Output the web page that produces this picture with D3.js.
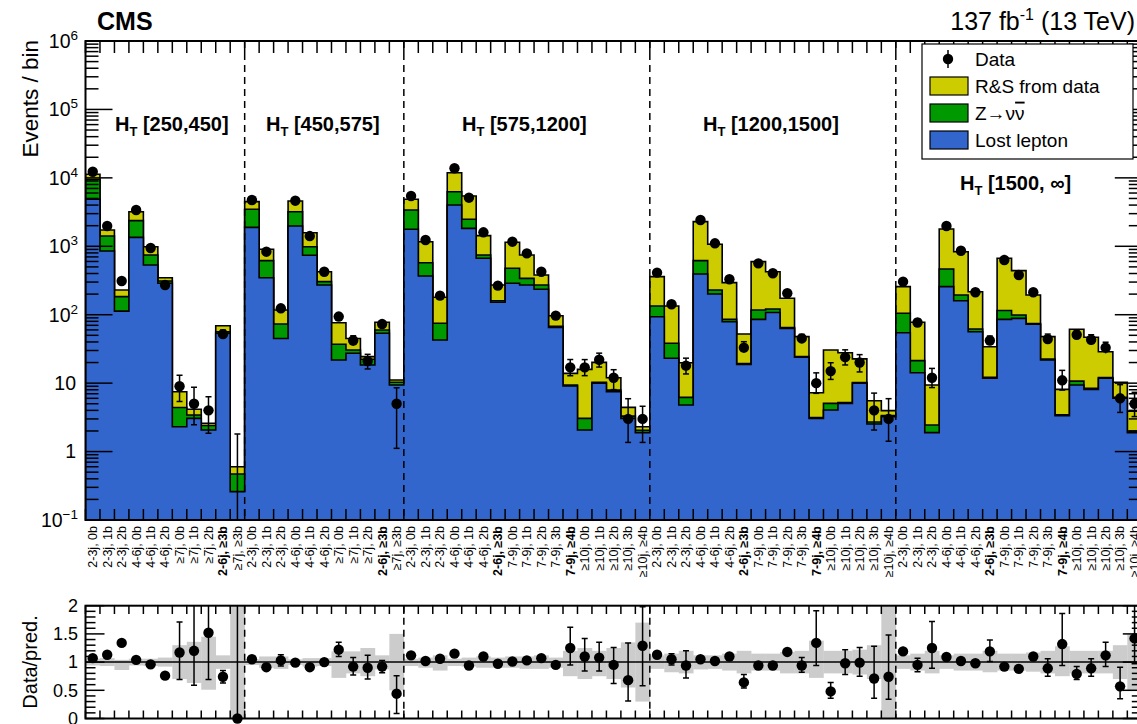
<!DOCTYPE html>
<html><head><meta charset="utf-8">
<script src="https://cdn.jsdelivr.net/npm/d3@7"></script>
<style>
body{margin:0;background:#fff}
svg{display:block}
text{font-family:"Liberation Sans",Arial,Helvetica,sans-serif;fill:#000}
</style>
</head><body><svg id="c" width="1137" height="724"></svg>
<script>
// ---------------- DATA ----------------
const labelsLowHT = ["2-3j, 0b","2-3j, 1b","2-3j, 2b","4-6j, 0b","4-6j, 1b","4-6j, 2b","≥7j, 0b","≥7j, 1b","≥7j, 2b","2-6j, ≥3b","≥7j, ≥3b"];
const labelsHighHT = ["2-3j, 0b","2-3j, 1b","2-3j, 2b","4-6j, 0b","4-6j, 1b","4-6j, 2b","2-6j, ≥3b","7-9j, 0b","7-9j, 1b","7-9j, 2b","7-9j, 3b","7-9j, ≥4b","≥10j, 0b","≥10j, 1b","≥10j, 2b","≥10j, 3b","≥10j, ≥4b"];
const htRegions = ["[250,450]","[450,575]","[575,1200]","[1200,1500]","[1500, ∞]"];
const regionBins = [11,11,17,17,17];
const binLabels = [].concat(labelsLowHT, labelsLowHT, labelsHighHT, labelsHighHT, labelsHighHT);

const lostLepton = [4870,853,113,1350,533,288,2.31,3.06,2.07,53.5,0.26,
  1890,347,45,1980,738,272,21.8,27.3,18.4,53.5,9.4,
  1770,368,42.7,4010,1830,667,152,288,272,235,65.4,9.1,2.07,9.96,7.5,3.06,1.89,
  93.6,23.1,4.8,394,201,79,18.8,85.5,108,63,23.9,3.06,4.05,5.07,9.96,2.53,3.24,
  54.6,14.2,1.89,257,160,56.5,11.8,85.5,88.5,72.4,21.8,3.35,9.4,8.1,11.8,6.0,1.89];
const zinv = [4630,557,71,1020,213,23,2.09,0.37,0.33,3.0,0.21,
  1580,270,28,1220,248,32,15.2,3.2,4.0,6.3,0.9,
  1620,208,32.3,2270,650,79,8,189,68,37,2.6,0.3,0.99,0.34,0.4,0.24,0.16,
  40.4,15.1,1.4,223,29,6.5,0.5,31.5,13,2,0.6,0.09,1.02,0.13,0.24,0.17,0.11,
  50.4,7.1,0.56,209,34,5.3,0.4,29.5,10.5,1.6,0.7,0.1,1.3,0.3,0.3,0.2,0.11];
const rsFromData = [1770,320,46,830,240,36,3.1,0.72,0.19,12.5,0.13,
  1020,286,44,1400,594,121,39.5,14.5,2.0,17.7,0.8,
  1480,591,105,5620,2950,684,112,666,406,108,28.8,4.5,12.84,9.8,4.1,1.13,0.26,
  226,95.8,13.7,1673,840,208.5,33,479,304,109,23.3,4.1,25.43,22.6,12.4,2.83,0.61,
  152,56.2,6.95,1324,640,155.2,21.9,552,342,120,25.3,4.65,50.5,38.4,16.7,4.1,1.9];
const observed = [12300,1980,311,3390,944,272,9,5,4,52,0,
  4740,834,124,4640,1410,425,94,42,21,73,5,
  5430,1236,190,13800,5130,1600,266,1167,789,425,97,17,17,22,12,3,3,
  412,142,18,2420,1105,330,33,563,403,206,45,10,15,24,20,4,3,
  304,77,12,1980,861,213,42,631,380,213,44,11,51,43,33,6,5];
const ratio = [1.07,1.13,1.34,1.04,0.96,0.76,1.17,1.2,1.52,0.74,0,
  1.05,0.91,1.03,0.99,0.91,1.0,1.22,0.92,0.9,0.92,0.44,
  1.12,1.02,1.06,1.15,0.94,1.1,0.97,1.01,1.03,1.07,0.95,1.25,1.1,1.08,0.95,0.68,1.29,
  1.13,1.05,0.94,1.05,1.02,1.1,0.64,0.94,0.94,1.18,0.94,1.34,0.48,0.98,0.99,0.71,0.74,
  1.19,0.95,1.25,1.09,1.02,0.98,1.19,0.92,0.88,1.1,0.89,1.32,0.79,0.89,1.12,0.57,1.42];
const ratioErrUp = [.02,.03,.06,.02,.03,.05,.54,.9,.9,.11,3,
  .02,.04,.1,.02,.03,.05,.13,.16,.22,.11,.32,
  .02,.03,.08,.01,.02,.03,.06,.03,.04,.05,.07,.37,.32,.27,.31,.66,.69,
  .07,.1,.26,.03,.04,.06,.14,.05,.06,.07,.14,.57,.16,.24,.27,.57,.74,
  .08,.12,.47,.04,.04,.07,.2,.04,.05,.08,.17,.54,.13,.17,.23,.34,.6];
const ratioErrDn = [.02,.03,.06,.02,.03,.05,.48,.61,.83,.11,0,
  .02,.04,.1,.02,.03,.05,.12,.15,.2,.11,.35,
  .02,.03,.08,.01,.02,.03,.06,.03,.04,.05,.07,.3,.26,.24,.33,.37,.71,
  .07,.1,.22,.03,.04,.06,.1,.05,.06,.07,.12,.4,.12,.2,.24,.35,.4,
  .08,.12,.36,.04,.04,.07,.18,.04,.05,.08,.14,.38,.1,.14,.2,.22,.45];
const bandLo = [0.94,0.93,0.86,0.94,0.93,0.92,0.70,0.63,0.51,0.88,0,
  0.95,0.9,0.88,0.95,0.92,0.93,0.72,0.8,0.75,0.87,0.5,
  0.93,0.9,0.85,0.93,0.92,0.9,0.9,0.9,0.88,0.88,0.9,0.75,0.7,0.75,0.7,0.55,0.3,
  0.88,0.82,0.8,0.87,0.88,0.85,0.8,0.85,0.85,0.8,0.8,0.72,0.8,0.8,0.78,0.7,0,
  0.88,0.85,0.8,0.88,0.85,0.85,0.82,0.85,0.85,0.83,0.8,0.75,0.8,0.8,0.8,0.7,0.5];
const bandHi = [1.06,1.07,1.04,1.06,1.06,1.08,1.30,1.36,1.45,1.12,2,
  1.05,1.1,1.1,1.05,1.07,1.07,1.19,1.19,1.25,1.12,1.5,
  1.06,1.08,1.12,1.06,1.08,1.1,1.08,1.1,1.1,1.12,1.08,1.2,1.25,1.2,1.25,1.35,1.7,
  1.12,1.15,1.2,1.12,1.12,1.15,1.2,1.15,1.15,1.18,1.2,1.38,1.2,1.2,1.22,1.3,2,
  1.12,1.15,1.2,1.12,1.15,1.15,1.2,1.15,1.15,1.17,1.2,1.28,1.2,1.2,1.2,1.3,1.5];
const yTickExp = [-1,0,1,2,3,4,5,6];
const ratioTicks = [0,0.5,1,1.5,2];
const legendItems = ["Data","R&S from data","Z→νν","Lost lepton"];

// ---------------- LAYOUT ----------------
const svg = d3.select("#c");
const nBins = binLabels.length;
const X0 = 85.5, X1 = 1141.8;
const x = d3.scaleLinear().domain([0, nBins]).range([X0, X1]);
const y = d3.scaleLog().domain([0.1, 1e6]).range([520, 41]);
const yr = d3.scaleLinear().domain([0, 2]).range([718.5, 605.7]);
const colors = {rs:"#cccc00", z:"#009900", ll:"#3366cc"};

const rows = binLabels.map((l,i)=>({i, ll:lostLepton[i], z:zinv[i], rs:rsFromData[i]}));
const stack = d3.stack().keys(["ll","z","rs"])(rows);

svg.append("defs").append("clipPath").attr("id","clipTop")
  .append("rect").attr("x",X0).attr("y",41).attr("width",X1-X0).attr("height",479);
svg.append("defs").append("clipPath").attr("id","clipR")
  .append("rect").attr("x",X0).attr("y",605.7).attr("width",X1-X0).attr("height",112.8);

const gTop = svg.append("g").attr("clip-path","url(#clipTop)");

function stepPath(vals){
  let p = `M${x(0)},${y(0.1)}`;
  vals.forEach((v,i)=>{ p += `L${x(i)},${y(v)}L${x(i+1)},${y(v)}`; });
  p += `L${x(nBins)},${y(0.1)}Z`;
  return p;
}
[["rs",2],["z",1],["ll",0]].forEach(([k,idx])=>{
  const vals = stack[idx].map(d=>d[1]);
  gTop.append("path").attr("d",stepPath(vals)).attr("fill",colors[k])
    .attr("stroke","#000").attr("stroke-width",1.6).attr("stroke-linejoin","miter");
});

let cum = 0;
const boundaries = [];
regionBins.slice(0,-1).forEach(n=>{ cum += n; boundaries.push(cum); });
boundaries.forEach(b=>{
  svg.append("line").attr("x1",x(b)).attr("x2",x(b)).attr("y1",41).attr("y2",520)
    .attr("stroke","#000").attr("stroke-width",1.5).attr("stroke-dasharray","7,5");
});

const axG = svg.append("g").attr("stroke","#000").attr("fill","none");
axG.append("rect").attr("x",X0).attr("y",41).attr("width",X1-X0).attr("height",479).attr("stroke-width",2);
for(let i=0;i<=nBins;i++){
  axG.append("line").attr("x1",x(i)).attr("x2",x(i)).attr("y1",520).attr("y2",509).attr("stroke-width",1.5);
  axG.append("line").attr("x1",x(i)).attr("x2",x(i)).attr("y1",41).attr("y2",53).attr("stroke-width",1.5);
}
yTickExp.forEach(e=>{
  const v = Math.pow(10,e);
  axG.append("line").attr("x1",X0).attr("x2",X0+27).attr("y1",y(v)).attr("y2",y(v)).attr("stroke-width",1.5);
  axG.append("line").attr("x1",X1).attr("x2",X1-27).attr("y1",y(v)).attr("y2",y(v)).attr("stroke-width",1.5);
  if(e<6) for(let m=2;m<=9;m++){
    const vv = m*v;
    axG.append("line").attr("x1",X0).attr("x2",X0+13).attr("y1",y(vv)).attr("y2",y(vv)).attr("stroke-width",1.5);
    axG.append("line").attr("x1",X1).attr("x2",X1-13).attr("y1",y(vv)).attr("y2",y(vv)).attr("stroke-width",1.5);
  }
});

yTickExp.forEach(e=>{
  const t = svg.append("text").attr("text-anchor","end").attr("font-size",19.5)
    .attr("x", (e===0||e===1)?76:78).attr("y", y(Math.pow(10,e))).attr("dy","0.35em");
  if(e===0) t.text("1");
  else if(e===1) t.text("10");
  else { t.append("tspan").text("10"); t.append("tspan").attr("font-size",13.5).attr("dy",-8).text(e<0?"−1":String(e)); }
});
svg.append("text").attr("transform","translate(38,40) rotate(-90)").attr("text-anchor","end")
  .attr("font-size",22.5).text("Events / bin");

const total = stack[2].map(d=>d[1]);
const dg = svg.append("g").attr("clip-path","url(#clipTop)");
observed.forEach((v,i)=>{
  const cx = x(i+0.5);
  const up = v + ratioErrUp[i]*total[i];
  const dn = Math.max(v - ratioErrDn[i]*total[i], 0.1);
  const yv = v>0 ? y(v) : y(0.1);
  dg.append("line").attr("x1",cx).attr("x2",cx).attr("y1",y(up)).attr("y2",v>0?y(dn):520)
    .attr("stroke","#000").attr("stroke-width",1.5);
  dg.append("line").attr("x1",cx-3).attr("x2",cx+3).attr("y1",y(up)).attr("y2",y(up)).attr("stroke","#000").attr("stroke-width",1.5);
  if(v>0){
    if(y(dn)-yv>6) dg.append("line").attr("x1",cx-3).attr("x2",cx+3).attr("y1",y(dn)).attr("y2",y(dn)).attr("stroke","#000").attr("stroke-width",1.5);
    dg.append("circle").attr("cx",cx).attr("cy",yv).attr("r",5.2).attr("fill","#000");
  }
});

const htPos = [[115,131],[266,131],[462,131],[703,131],[960,190]];
htRegions.forEach((r,k)=>{
  const t = svg.append("text").attr("x",htPos[k][0]).attr("y",htPos[k][1]).attr("font-size",20).attr("font-weight","bold");
  t.append("tspan").text("H");
  t.append("tspan").attr("font-size",13).attr("dy",5).text("T");
  t.append("tspan").attr("dy",-5).text(" "+r);
});

binLabels.forEach((l,i)=>{
  const bold = /^2-6j/.test(l) || l==="7-9j, ≥4b";
  svg.append("text").attr("transform",`translate(${x(i+0.5)},526) rotate(-90)`)
    .attr("text-anchor","end").attr("dy","0.35em").attr("font-size",12.5)
    .attr("font-weight",bold?"bold":"normal").text(l);
});

svg.append("text").attr("x",97).attr("y",30).attr("font-size",25).attr("font-weight","bold").text("CMS");
const lumi = svg.append("text").attr("x",1135).attr("y",30).attr("text-anchor","end").attr("font-size",25);
lumi.append("tspan").text("137 fb");
lumi.append("tspan").attr("font-size",16).attr("dy",-10).text("-1");
lumi.append("tspan").attr("dy",10).text(" (13 TeV)");

const lg = svg.append("g");
lg.append("rect").attr("x",922).attr("y",44).attr("width",211).attr("height",115).attr("fill","#fff").attr("stroke","#000").attr("stroke-width",1.2);
const legY = [59,86,113,140];
const legCol = [null, colors.rs, colors.z, colors.ll];
legendItems.forEach((name,k)=>{
  const cy = legY[k];
  if(k===0){
    lg.append("line").attr("x1",948).attr("x2",948).attr("y1",cy-9).attr("y2",cy+9).attr("stroke","#000").attr("stroke-width",1.5);
    lg.append("circle").attr("cx",948).attr("cy",cy).attr("r",5.2).attr("fill","#000");
  } else {
    lg.append("rect").attr("x",930).attr("y",cy-9).attr("width",38).attr("height",18).attr("fill",legCol[k]).attr("stroke","#000").attr("stroke-width",1.2);
  }
  const t = lg.append("text").attr("x",975).attr("y",cy).attr("dy","0.35em").attr("font-size",19);
  if(name==="Z→νν"){
    t.append("tspan").text("Z→ν");
    t.append("tspan").attr("text-decoration","overline").text("ν");
  } else t.text(name);
});

// ---------------- RATIO PANEL ----------------
const rg = svg.append("g").attr("clip-path","url(#clipR)");
bandLo.forEach((lo,i)=>{
  rg.append("rect").attr("x",x(i)).attr("width",x(i+1)-x(i)+0.3).attr("y",yr(bandHi[i])).attr("height",yr(lo)-yr(bandHi[i]))
    .attr("fill","#cccccc");
});
rg.append("line").attr("x1",X0).attr("x2",X1).attr("y1",yr(1)).attr("y2",yr(1)).attr("stroke","#000").attr("stroke-width",1.5);
boundaries.forEach(b=>{
  rg.append("line").attr("x1",x(b)).attr("x2",x(b)).attr("y1",605.7).attr("y2",718.5)
    .attr("stroke","#000").attr("stroke-width",1.5).attr("stroke-dasharray","7,5");
});
ratio.forEach((r,i)=>{
  const cx = x(i+0.5);
  const up = r+ratioErrUp[i], dn = Math.max(r-ratioErrDn[i],0);
  rg.append("line").attr("x1",cx).attr("x2",cx).attr("y1",yr(up)).attr("y2",yr(dn)).attr("stroke","#000").attr("stroke-width",1.5);
  if(yr(dn)-yr(up)>10){
    rg.append("line").attr("x1",cx-3).attr("x2",cx+3).attr("y1",yr(up)).attr("y2",yr(up)).attr("stroke","#000").attr("stroke-width",1.5);
    rg.append("line").attr("x1",cx-3).attr("x2",cx+3).attr("y1",yr(dn)).attr("y2",yr(dn)).attr("stroke","#000").attr("stroke-width",1.5);
  }
});
ratio.forEach((r,i)=>{
  svg.append("circle").attr("cx",x(i+0.5)).attr("cy",yr(r)).attr("r",5.2).attr("fill","#000");
});
const ax2 = svg.append("g").attr("stroke","#000").attr("fill","none");
ax2.append("rect").attr("x",X0).attr("y",605.7).attr("width",X1-X0).attr("height",112.8).attr("stroke-width",2);
for(let i=0;i<=nBins;i++){
  ax2.append("line").attr("x1",x(i)).attr("x2",x(i)).attr("y1",718.5).attr("y2",710.5).attr("stroke-width",1.5);
  ax2.append("line").attr("x1",x(i)).attr("x2",x(i)).attr("y1",605.7).attr("y2",614).attr("stroke-width",1.5);
}
for(let k=0;k<=20;k++){
  const v = k*0.1, L = (k%5===0)?19:10;
  ax2.append("line").attr("x1",X0).attr("x2",X0+L).attr("y1",yr(v)).attr("y2",yr(v)).attr("stroke-width",1.5);
  ax2.append("line").attr("x1",X1).attr("x2",X1-L).attr("y1",yr(v)).attr("y2",yr(v)).attr("stroke-width",1.5);
}
ratioTicks.forEach(v=>{
  svg.append("text").attr("x",78).attr("y",yr(v)).attr("dy","0.35em").attr("text-anchor","end").attr("font-size",18).text(String(v));
});
svg.append("text").attr("transform","translate(37,662) rotate(-90)").attr("text-anchor","middle")
  .attr("font-size",20).text("Data/pred.");
</script></body></html>
